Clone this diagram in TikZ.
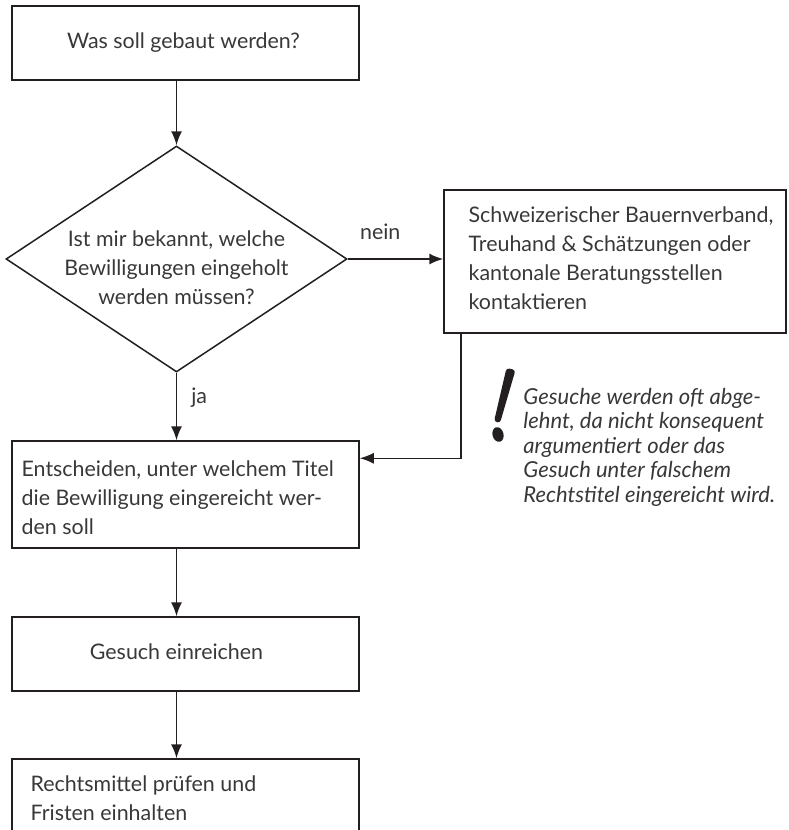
\documentclass[tikz,border=0pt]{standalone}
\usepackage{fontspec}
\setmainfont{Lato}
\usetikzlibrary{arrows.meta,shapes.geometric}

\definecolor{linie}{HTML}{231F20}
\definecolor{schrift}{HTML}{3A3738}

\tikzset{
  kasten/.style={rectangle, draw=linie, line width=0.75pt, minimum width=173.5pt, inner sep=0pt},
  raute/.style={diamond, draw=linie, line width=0.75pt, minimum width=170.5pt, minimum height=113pt, inner sep=0pt},
  pfeil/.style={-{Latex[length=7pt,width=5.5pt]}, draw=linie, line width=0.75pt},
  txt/.style={text=schrift, font=\fontsize{10.7}{14.5}\selectfont, align=left, inner sep=0pt},
  hinweis/.style={text=schrift, font=\fontsize{11}{12.25}\selectfont\itshape, align=left, inner sep=0pt}
}

\begin{document}
\begin{tikzpicture}[x=0.5pt,y=-0.5pt]
\useasboundingbox (0,0) rectangle (788,830);
\clip (0,0) rectangle (788,830);

\coordinate (achse) at (176.5,0);

\draw (185.5,43) node (frage) [kasten, minimum height=37pt] {};
\draw (183.5,43) node [txt] {Was soll gebaut werden?};

\draw (176.5,259) node (bekannt) [raute] {};
\draw ([yshift=-4.25pt]bekannt.center) node [txt, align=center] {Ist mir bekannt, welche\\Bewilligungen eingeholt\\werden müssen?};

\draw (615,261.5) node (verband) [kasten, minimum width=171pt, minimum height=71.5pt] {};
\draw ([xshift=12.5pt,yshift=1.5pt]verband.west) node [txt, right] {Schweizerischer Bauernverband,\\Treuhand \& Schätzungen oder\\kantonale Beratungsstellen\\kontaktieren};

\draw (185.5,494.5) node (titel) [kasten, minimum height=53.5pt] {};
\draw ([xshift=5pt,yshift=-1.75pt]titel.west) node [txt, right] {Entscheiden, unter welchem Titel\\die Bewilligung eingereicht wer-\\den soll};

\draw (185.5,654) node (gesuch) [kasten, minimum height=37pt] {};
\draw (176.5,652) node [txt] {Gesuch einreichen};

\draw (185.5,796) node (rechtsmittel) [kasten, minimum height=37pt] {};
\draw ([xshift=9.5pt,yshift=-1pt]rechtsmittel.west) node [txt, right] {Rechtsmittel prüfen und\\Fristen einhalten};

% Hinweis mit Ausrufezeichen
\fill [linie, rounded corners=1.5pt] (506.5,368) -- (515.5,370) -- (500,423) -- (494,421.5) -- cycle;
\fill [linie, rotate around={15:(498,434.5)}] (498,434.5) ellipse [x radius=5.5, y radius=7.5];
\draw (523,447) node (hinweis) [hinweis, right] {Gesuche werden oft abge-\\lehnt, da nicht konsequent\\argumentiert oder das\\Gesuch unter falschem\\Rechtstitel eingereicht wird.};

% Verbindungen
\draw [pfeil] (achse |- frage.south) -- (bekannt.north);
\draw [pfeil] (bekannt.east) -- node [txt, pos=0.34, above=9.5pt] {nein} (bekannt.east -| verband.west);
\draw [pfeil] (bekannt.south) -- node [txt, pos=0.37, right=7pt] {ja} (achse |- titel.north);
\draw [pfeil] ([xshift=8.85pt]verband.south west) |- ([yshift=-9pt]titel.north east);
\draw [pfeil] (achse |- titel.south) -- (achse |- gesuch.north);
\draw [pfeil] (achse |- gesuch.south) -- (achse |- rechtsmittel.north);

\end{tikzpicture}
\end{document}
